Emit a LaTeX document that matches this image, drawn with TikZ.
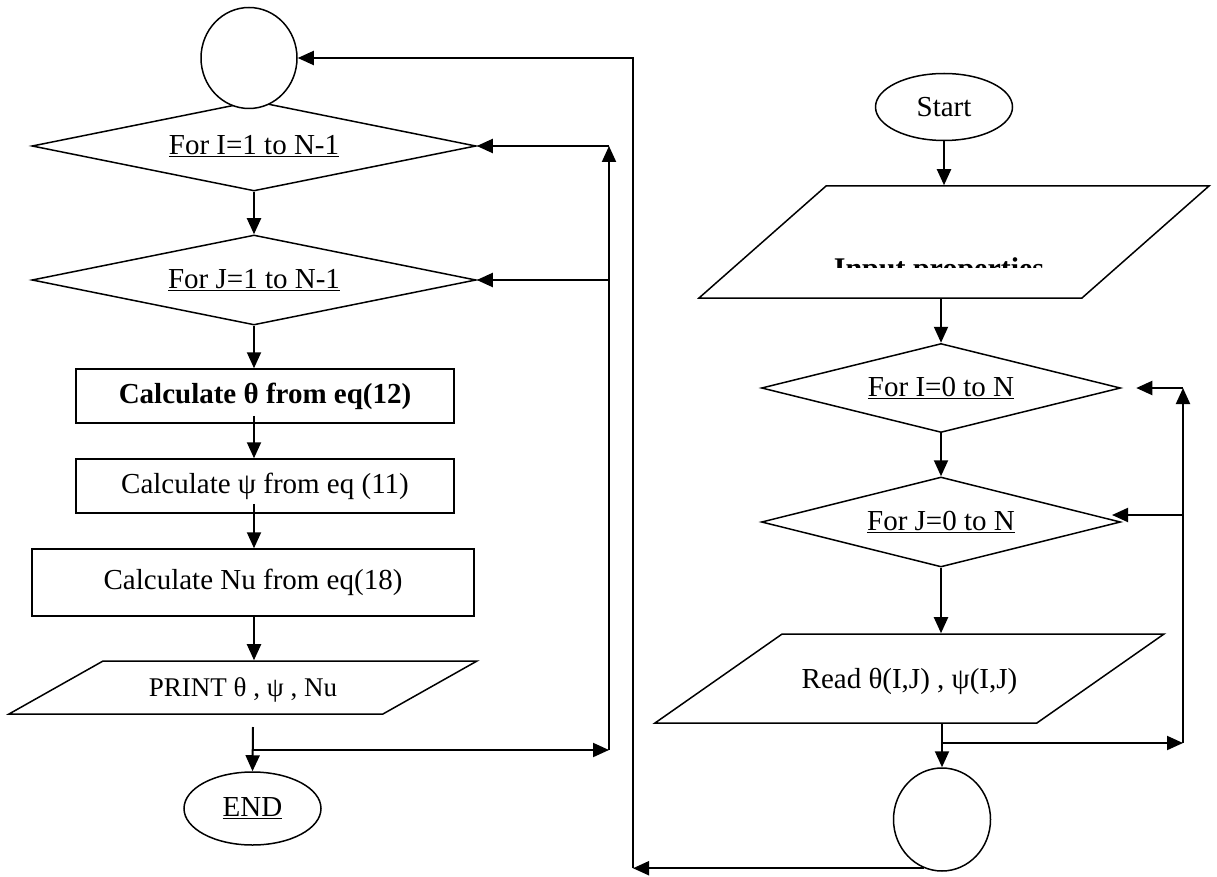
\documentclass[tikz,border=0pt]{standalone}
\usepackage{fontspec}
\setmainfont{Liberation Serif}
\usetikzlibrary{shapes.geometric,arrows.meta,calc}

\begin{document}
\begin{tikzpicture}[x=1pt, y=-1pt,
  font=\fontsize{29}{34}\selectfont,
  term/.style={ellipse, draw, line width=1.5pt, fill=white, inner sep=0pt},
  loop/.style={diamond, draw, line width=1.5pt, aspect=4, inner sep=0pt},
  box/.style={rectangle, draw, line width=1.5pt, inner sep=0pt},
  io/.style={trapezium, draw, line width=1.5pt, inner sep=0pt, trapezium stretches body},
  arr/.style={-{Triangle[length=16pt,width=14pt]}, line width=2pt}]
\useasboundingbox (0,0) rectangle (1217,877);

% left column
\node[loop, minimum width=444pt, minimum height=90pt](forI) at (254,146){\underline{For I=1 to N-1}};
\node[term, minimum width=96pt, minimum height=101pt](conn1) at (249,58){};
\node[loop, minimum width=444pt, minimum height=90pt, below of = forI, node distance = 134pt](forJ){\underline{For J=1 to N-1}};
\node[box, minimum width=378pt, minimum height=54pt](theta) at (265,396){\bfseries Calculate θ from eq(12)};
\node[box, minimum width=378pt, minimum height=54pt, below of = theta, node distance = 90pt](psi){Calculate ψ from eq (11)};
\node[box, minimum width=442pt, minimum height=67pt](nu) at (253,582.5){Calculate Nu from eq(18)};
\node[io, trapezium left angle=29.4, trapezium right angle=150.6, minimum width=468pt,
  text height=35pt, text depth=18pt, font=\fontsize{27}{32}\selectfont](print) at (243,687.5){PRINT θ , ψ , Nu};
\node[term, minimum width=137pt, minimum height=73pt](endA) at (252.5,808.5){\underline{END}};

% right column
\node[term, minimum width=137pt, minimum height=67pt](start) at (944,107){Start};
\node[io, trapezium left angle=41.4, trapezium right angle=138.6, minimum width=510pt,
  text height=56pt, text depth=56pt](input) at (954,242){};
\begin{scope}
\clip (800,250) rectangle (1100,267);
\node[font=\fontsize{30}{36}\selectfont\bfseries, anchor=base](inputText) at (939,278){Input properties};
\end{scope}
\node[loop, minimum width=359pt, minimum height=89pt](forI0) at (941,388){\underline{For I=0 to N}};
\node[loop, minimum width=359pt, minimum height=90pt, below of = forI0, node distance = 134pt](forJ0){\underline{For J=0 to N}};
\node[io, trapezium left angle=35.0, trapezium right angle=145.0, minimum width=509pt,
  text height=54pt, text depth=35pt](read) at (909.5,678.5){Read θ(I,J) , ψ(I,J)};
\node[term, minimum width=97pt, minimum height=103pt](conn2) at (942,819.5){};

\coordinate (gapL) at (253,727);
\coordinate (loopL) at (609,750);
\coordinate (loopR) at (1183,743);
\coordinate (tipJ) at (1112,515);
\coordinate (outB) at (633,871);

% left flow
\draw[arr] (forI.south) -- (forJ.north);
\draw[arr] (forJ.south) -- (forJ.south |- theta.north);
\draw[arr] ($(forJ.south |- theta.south)+(0,-8)$) -- (forJ.south |- psi.north);
\draw[arr] ($(forJ.south |- psi.south)+(0,-10)$) -- (forJ.south |- nu.north);
\draw[arr] (forJ.south |- nu.south) -- (forJ.south |- print.north);
\draw[arr] (gapL) -- (endA.north);
\draw[arr] (gapL |- loopL) -- (loopL);
\draw[arr] (loopL) -- (loopL |- forI.east);
\draw[arr] (loopL |- forI.east) -- (forI.east);
\draw[arr] (loopL |- forJ.east) -- (forJ.east);

% right flow
\draw[arr] (start.south) -- (start.south |- input.north);
\draw[arr] (forI0.north |- input.south) -- (forI0.north);
\draw[arr] (forI0.south) -- (forJ0.north);
\draw[arr] (forJ0.south) -- (forJ0.south |- read.north);
\draw[arr] (conn2.north |- read.south) -- (conn2.north);
\draw[arr] (conn2.north |- loopR) -- (loopR);
\draw[arr] (loopR) -- (loopR |- forI0.east);
\draw[arr] (loopR |- forI0.east) -- ([xshift=15pt]forI0.east);
\draw[arr] (loopR |- tipJ) -- (tipJ);

% back to the left column
\draw[arr] (conn2.250) -- (conn2.250 -| outB);
\draw[arr] (conn2.250 -| outB) |- (conn1.east);
\end{tikzpicture}
\end{document}
